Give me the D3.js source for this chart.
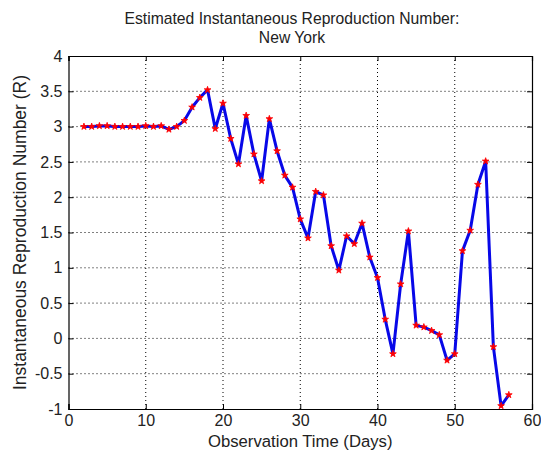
<!DOCTYPE html>
<html><head><meta charset="utf-8">
<script src="https://cdn.jsdelivr.net/npm/d3@7"></script>
<style>body{margin:0;background:#fff}text{font-family:"Liberation Sans",Arial,sans-serif}</style>
</head><body><svg id="c" width="541" height="454"></svg>
<script>
const days = [2,3,4,5,6,7,8,9,10,11,12,13,14,15,16,17,18,19,20,21,22,23,24,25,26,27,28,29,30,31,32,33,34,35,36,37,38,39,40,41,42,43,44,45,46,47,48,49,50,51,52,53,54,55,56,57];
const rValues = [3.0,3.0,3.01,3.01,3.0,3.0,3.0,3.0,3.01,3.0,3.01,2.96,3.0,3.085,3.275,3.41,3.52,2.97,3.33,2.83,2.47,3.156,2.61,2.23,3.11,2.655,2.31,2.14,1.69,1.42,2.08,2.03,1.31,0.965,1.45,1.34,1.63,1.15,0.86,0.27,-0.22,0.77,1.52,0.185,0.16,0.11,0.05,-0.31,-0.22,1.24,1.53,2.18,2.51,-0.12,-0.955,-0.80];
const xTicks = [0,10,20,30,40,50,60];
const yTicks = [-1,-0.5,0,0.5,1,1.5,2,2.5,3,3.5,4];
const titleLines = ["Estimated Instantaneous Reproduction Number:","New York"];
const xLabel = "Observation Time (Days)";
const yLabel = "Instantaneous Reproduction Number (R)";

const svg = d3.select("#c");
const L=68.5,R=532,T=56,B=409;
const x = d3.scaleLinear().domain([0,60]).range([L,R]);
const y = d3.scaleLinear().domain([-1,4]).range([B,T]);

// grid
const g = svg.append("g");
g.selectAll(".gx").data(xTicks.slice(1,-1)).enter().append("line")
 .attr("x1",d=>x(d)).attr("x2",d=>x(d)).attr("y1",T).attr("y2",B)
 .attr("stroke","#000").attr("stroke-width",1).attr("stroke-dasharray","1,3");
g.selectAll(".gy").data(yTicks.slice(1,-1)).enter().append("line")
 .attr("y1",d=>y(d)).attr("y2",d=>y(d)).attr("x1",L).attr("x2",R)
 .attr("stroke","#000").attr("stroke-width",1).attr("stroke-dasharray","1,3");

// axes
const ax = svg.append("g").attr("transform",`translate(0,${B})`)
 .call(d3.axisBottom(x).tickValues(xTicks).tickSize(-5).tickPadding(6).tickFormat(d3.format("d")));
const axTop = svg.append("g").attr("transform",`translate(0,${T})`)
 .call(d3.axisTop(x).tickValues(xTicks).tickSize(-5).tickFormat(""));
const ay = svg.append("g").attr("transform",`translate(${L},0)`)
 .call(d3.axisLeft(y).tickValues(yTicks).tickSize(-5).tickPadding(6).tickFormat(d=>String(d)));
const ayR = svg.append("g").attr("transform",`translate(${R},0)`)
 .call(d3.axisRight(y).tickValues(yTicks).tickSize(-5).tickFormat(""));
[ax,axTop,ay,ayR].forEach(a=>{
  a.selectAll("path").attr("stroke","#000").attr("stroke-width",1.2);
  a.selectAll("line").attr("stroke","#000");
  a.selectAll("text").attr("font-size","16px").attr("fill","#222").attr("font-family","Liberation Sans, Arial, sans-serif");
});

// line
const line = d3.line().x((d,i)=>x(days[i])).y(d=>y(d));
svg.append("path").datum(rValues).attr("d",line).attr("fill","none")
 .attr("stroke","#0808e8").attr("stroke-width",3).attr("stroke-linejoin","round");

// star markers
const star = d3.symbol().type(d3.symbolStar).size(14);
svg.selectAll(".m").data(rValues).enter().append("path")
 .attr("d",star).attr("transform",(d,i)=>`translate(${x(days[i])},${y(d)})`)
 .attr("fill","#f00").attr("stroke","#f00").attr("stroke-width",0.8);

// title
svg.selectAll(".t").data(titleLines).enter().append("text")
 .attr("x",292).attr("y",(d,i)=>24+i*19).attr("text-anchor","middle")
 .attr("font-size","15.7px").attr("fill","#222").text(d=>d);
svg.append("text").attr("x",(L+R)/2).attr("y",447).attr("text-anchor","middle")
 .attr("font-size","16.7px").attr("fill","#222").text(xLabel);
svg.append("text").attr("transform",`translate(26,${(T+B)/2}) rotate(-90)`).attr("text-anchor","middle")
 .attr("font-size","17.5px").attr("fill","#222").text(yLabel);
</script></body></html>
